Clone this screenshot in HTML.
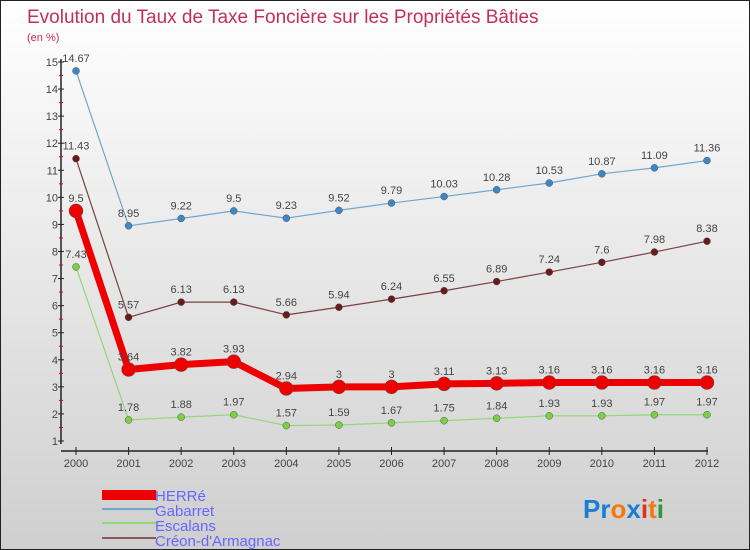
<!DOCTYPE html>
<html><head><meta charset="utf-8"><style>
body{margin:0}
#c{width:750px;height:550px;position:relative;overflow:hidden;background:linear-gradient(#ffffff,#cfcfcf);border:1px solid #222;box-sizing:border-box;font-family:"Liberation Sans",sans-serif}
</style></head><body>
<div id="c">
<svg id="s" width="750" height="550" style="position:absolute;left:0;top:0">
<text x="26" y="22" font-size="19" fill="#c0305a">Evolution du Taux de Taxe Foncière sur les Propriétés Bâties</text>
<text x="26" y="40" font-size="11" fill="#c0305a">(en %)</text>
<g id="axes"></g><g id="series"></g>
<g>
<rect x="101" y="489" width="54" height="10" fill="#e00"/>
<text x="154" y="500" font-size="15" fill="#66f">HERRé</text>
<rect x="101" y="507" width="54" height="2" fill="#6fa6d0"/>
<text x="154" y="515" font-size="15" fill="#66f">Gabarret</text>
<rect x="101" y="521" width="54" height="2" fill="#8fd87a"/>
<text x="154" y="530" font-size="15" fill="#66f">Escalans</text>
<rect x="101" y="536" width="54" height="2" fill="#8a5a5a"/>
<text x="154" y="545" font-size="15" fill="#66f">Créon-d'Armagnac</text>
</g>
<text x="582" y="517" font-size="26" font-weight="bold"><tspan fill="#1a7fd4">Pr</tspan><tspan fill="#f07a10">o</tspan><tspan fill="#1a7fd4">x</tspan><tspan fill="#e03020">i</tspan><tspan fill="#f07a10">t</tspan><tspan fill="#2a9a3a">i</tspan></text>
</svg>
</div>
<script>
const years=[2000,2001,2002,2003,2004,2005,2006,2007,2008,2009,2010,2011,2012];
const herre=[9.5,3.64,3.82,3.93,2.94,3,3,3.11,3.13,3.16,3.16,3.16,3.16];
const gabarret=[14.67,8.95,9.22,9.5,9.23,9.52,9.79,10.03,10.28,10.53,10.87,11.09,11.36];
const escalans=[7.43,1.78,1.88,1.97,1.57,1.59,1.67,1.75,1.84,1.93,1.93,1.97,1.97];
const creon=[11.43,5.57,6.13,6.13,5.66,5.94,6.24,6.55,6.89,7.24,7.6,7.98,8.38];
const yTicks=[1,2,3,4,5,6,7,8,9,10,11,12,13,14,15];
const NS="http://www.w3.org/2000/svg";
const X=i=>75+i*(706-75)/12;
const Y=v=>440-(v-1)*(440-61)/14;
function mk(p,t,a){const e=document.createElementNS(NS,t);for(const k in a)e.setAttribute(k,a[k]);p.appendChild(e);return e;}
const ax=document.getElementById('axes');
const yl=mk(ax,'line',{x1:60,y1:58,x2:60,y2:443,stroke:'#222','stroke-width':1.5});


const xl=mk(ax,'line',{x1:60,y1:450,x2:707,y2:450,stroke:'#222','stroke-width':1.5});


yTicks.forEach(v=>{
 mk(ax,'line',{x1:57,y1:Y(v),x2:63,y2:Y(v),stroke:'#222'});
 if(v<15)mk(ax,'line',{x1:58,y1:Y(v+0.5),x2:62,y2:Y(v+0.5),stroke:'#e00'});
 const t=mk(ax,'text',{x:57,y:Y(v)+4,'text-anchor':'end','font-size':11,fill:'#444'});t.textContent=v;
 
 
});
years.forEach((y,i)=>{
 mk(ax,'line',{x1:X(i),y1:446,x2:X(i),y2:454,stroke:'#222'});
 const t=mk(ax,'text',{x:X(i),y:466,'text-anchor':'middle','font-size':11,fill:'#444'});t.textContent=y;
 
 
});
const sg=document.getElementById('series');
function draw(data,color,w,r,name,fill){
 const pts=data.map((v,i)=>X(i)+','+Y(v)).join(' ');
 const pl=mk(sg,'polyline',{points:pts,fill:'none',stroke:color,'stroke-width':w,'stroke-linejoin':'round'});
 
 
 data.forEach((v,i)=>{
  const c=mk(sg,'circle',{cx:X(i),cy:Y(v),r:r,fill:fill,stroke:'#555','stroke-width':0.5});
  
  
  const t=mk(sg,'text',{x:X(i),y:Y(v)-9,'text-anchor':'middle','font-size':11,fill:'#444'});t.textContent=v;
  
  
 });
}
draw(gabarret,'#6fa6d0',1.2,3.5,'gabarret','#3a88c8');
draw(creon,'#7a4040',1.2,3.5,'creon','#6a1a1a');
draw(escalans,'#8fd87a',1.2,3.5,'escalans','#7ad040');
draw(herre,'#e00',7,7,'herre','#e00');
</script>
</body></html>
